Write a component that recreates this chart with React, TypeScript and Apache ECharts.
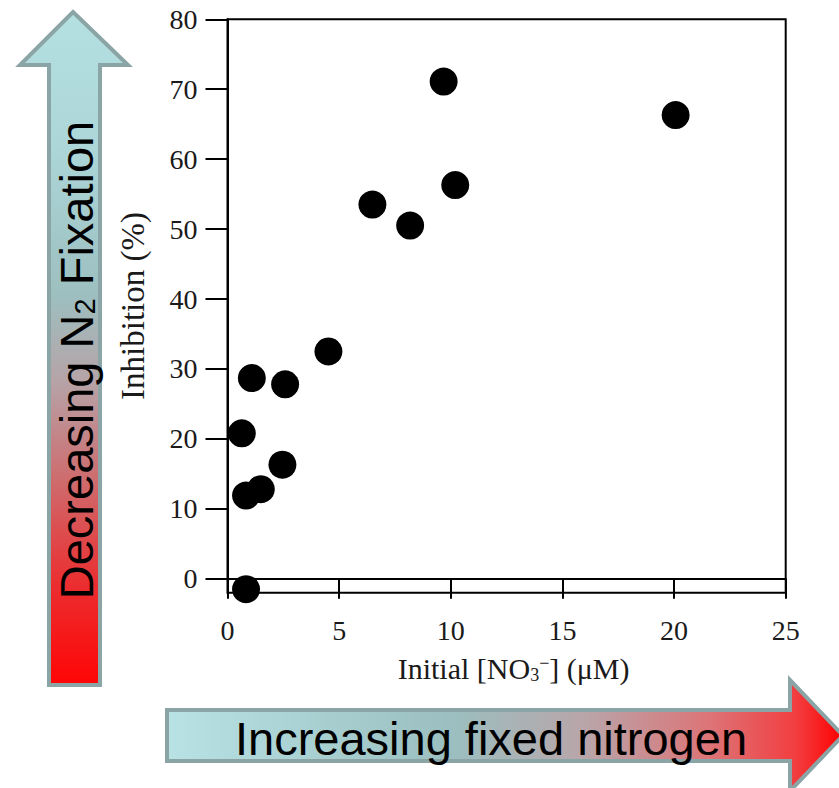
import React, { useEffect, useRef } from 'react';
import * as echarts from 'echarts';

// Initial [NO3-] (uM)
const xValues = [9.68, 20.07, 10.2, 6.49, 8.18, 4.52, 1.09, 2.58, 0.64, 2.46, 1.49, 0.83, 0.83];
// Inhibition (%)
const yValues = [71.1, 66.3, 56.3, 53.5, 50.5, 32.5, 28.7, 27.8, 20.8, 16.3, 12.8, 11.9, -1.5];
const yTickValues = [0, 10, 20, 30, 40, 50, 60, 70, 80];
const xTickValues = [0, 5, 10, 15, 20, 25];

const xAxisName = 'Initial [NO{sub|3}{sup|−}] (μM)';
const yAxisName = 'Inhibition (%)';
const vArrowText = 'Decreasing N{sub|2} Fixation';
const hArrowText = 'Increasing fixed nitrogen';

export default function App() {
  const ref = useRef<HTMLDivElement>(null);
  useEffect(() => {
    const chart = echarts.init(ref.current!, null, { renderer: 'svg' });
    const vGrad = new echarts.graphic.LinearGradient(0, 0, 0, 1, [
      { offset: 0, color: '#b5e0e2' },
      { offset: 0.2, color: '#acd6d8' },
      { offset: 0.42, color: '#9dbfc0' },
      { offset: 0.55, color: '#b6a3a7' },
      { offset: 0.7, color: '#cf6a6c' },
      { offset: 0.85, color: '#eb2e30' },
      { offset: 1, color: '#ff0505' },
    ]);
    const hGrad = new echarts.graphic.LinearGradient(0, 0, 1, 0, [
      { offset: 0, color: '#b8e2e4' },
      { offset: 0.42, color: '#9bbfc0' },
      { offset: 0.62, color: '#b9a5a9' },
      { offset: 0.8, color: '#dc7578' },
      { offset: 0.93, color: '#f23e40' },
      { offset: 1, color: '#ff0000' },
    ]);
    const serif = 'Liberation Serif';
    const sans = 'Liberation Sans';
    chart.setOption({
      animation: false,
      backgroundColor: '#ffffff',
      grid: {
        left: 227.5,
        right: 53.3,
        top: 19.3,
        bottom: 195.3,
        show: true,
        borderColor: '#000',
        borderWidth: 2,
      },
      xAxis: {
        type: 'value',
        min: 0,
        max: 25,
        interval: 5,
        name: xAxisName,
        nameLocation: 'middle',
        nameGap: 61,
        nameTextStyle: {
          fontFamily: serif,
          fontSize: 30,
          color: '#1a1a1a',
          padding: [0, 0, 0, 14],
          rich: {
            sub: { fontFamily: serif, fontSize: 18, color: '#1a1a1a', verticalAlign: 'bottom', lineHeight: 8 },
            sup: { fontFamily: serif, fontSize: 18, color: '#1a1a1a', verticalAlign: 'top', lineHeight: 10 },
          },
        },
        axisLine: { show: true, lineStyle: { color: '#000', width: 2 } },
        axisTick: { show: true, inside: false, length: 20, lineStyle: { color: '#000', width: 2 } },
        axisLabel: {
          customValues: xTickValues,
          margin: 24,
          fontFamily: serif,
          fontSize: 28,
          color: '#1a1a1a',
        },
        splitLine: { show: false },
      },
      yAxis: {
        type: 'value',
        min: -2,
        max: 80,
        name: yAxisName,
        nameLocation: 'middle',
        nameGap: 78,
        nameTextStyle: { fontFamily: serif, fontSize: 33, color: '#1a1a1a' },
        axisLine: { show: true, lineStyle: { color: '#000', width: 2 } },
        axisTick: {
          show: true,
          inside: false,
          length: 22,
          customValues: yTickValues,
          lineStyle: { color: '#000', width: 2 },
        },
        axisLabel: {
          customValues: yTickValues,
          margin: 30,
          fontFamily: serif,
          fontSize: 28,
          color: '#1a1a1a',
        },
        splitLine: { show: false },
      },
      series: [
        {
          type: 'scatter',
          data: xValues.map((x, i) => [x, yValues[i]]),
          symbol: 'circle',
          symbolSize: 28,
          clip: false,
          itemStyle: { color: '#000', opacity: 1 },
          z: 5,
        },
      ],
      graphic: [
        {
          type: 'polygon',
          shape: {
            points: [
              [73, 12],
              [128, 65],
              [100, 65],
              [100, 685],
              [49, 685],
              [49, 65],
              [20, 65],
            ],
          },
          style: { fill: vGrad, stroke: '#8ba5a7', lineWidth: 4 },
          z: 0,
        },
        {
          type: 'text',
          x: 76,
          y: 360,
          rotation: Math.PI / 2,
          style: {
            text: vArrowText,
            fontFamily: sans,
            fontSize: 47,
            fill: '#000',
            align: 'center',
            verticalAlign: 'middle',
            rich: {
              sub: { fontFamily: sans, fontSize: 29, fill: '#000', verticalAlign: 'bottom', lineHeight: 12 },
            },
          },
          z: 1,
        },
        {
          type: 'polygon',
          shape: {
            points: [
              [167, 710],
              [790, 710],
              [790, 680],
              [843, 735.5],
              [790, 791],
              [790, 761],
              [167, 761],
            ],
          },
          style: { fill: hGrad, stroke: '#8ba5a7', lineWidth: 4 },
          z: 0,
        },
        {
          type: 'text',
          x: 491,
          y: 738,
          style: {
            text: hArrowText,
            fontFamily: sans,
            fontSize: 47,
            fill: '#000',
            align: 'center',
            verticalAlign: 'middle',
          },
          z: 1,
        },
      ],
    });
    return () => chart.dispose();
  }, []);
  return <div ref={ref} style={{ position: 'absolute', left: 0, top: 0, width: 839, height: 788 }} />;
}
